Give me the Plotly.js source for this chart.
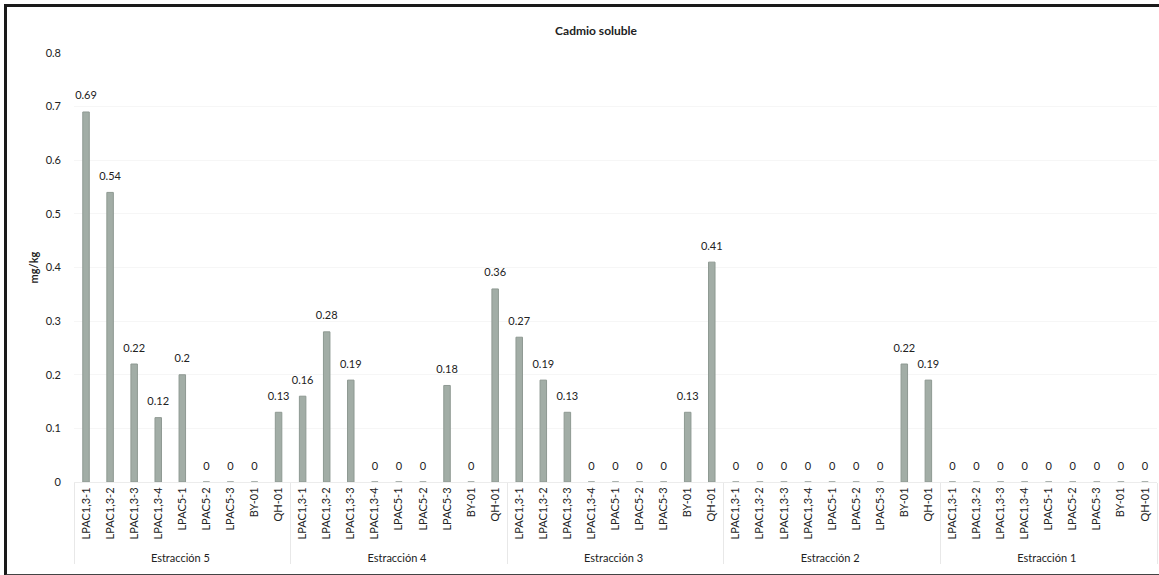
<!DOCTYPE html>
<html>
<head>
<meta charset="utf-8">
<script src="https://cdn.plot.ly/plotly-3.0.1.min.js"></script>
<style>
body{margin:0;background:#fff;}
#wrap{position:absolute;left:4px;top:4px;width:1155px;height:567px;border-left:3px solid #1a1a1a;border-top:3px solid #1a1a1a;border-bottom:2px solid #444;}
#chart{width:1155px;height:567px;}
</style>
</head>
<body>
<div id="wrap"><div id="chart"></div></div>
<script>
const groups = ["Estracción 5","Estracción 4","Estracción 3","Estracción 2","Estracción 1"];
const samples = ["LPAC1,3-1","LPAC1,3-2","LPAC1,3-3","LPAC1,3-4","LPAC5-1","LPAC5-2","LPAC5-3","BY-01","QH-01"];
const est5 = [0.69,0.54,0.22,0.12,0.2,0,0,0,0.13];
const est4 = [0.16,0.28,0.19,0,0,0,0.18,0,0.36];
const est3 = [0.27,0.19,0.13,0,0,0,0,0.13,0.41];
const est2 = [0,0,0,0,0,0,0,0.22,0.19];
const est1 = [0,0,0,0,0,0,0,0,0];
const series = [est5,est4,est3,est2,est1];

const xg = [], xs = [], yv = [];
groups.forEach((g,i)=>{
  samples.forEach((s,j)=>{
    xg.push(g); xs.push(s); yv.push(series[i][j]);
  });
});

const font = "Lato, 'Open Sans', sans-serif";
Plotly.newPlot('chart',[{
  type:'bar',
  x:[xg,xs],
  y:yv,
  marker:{color:'#a2ada6',line:{color:'#8e9992',width:1}},
  width:0.27,
  hoverinfo:'x+y'
},{
  type:'scatter',
  mode:'markers+text',
  x:[xg,xs],
  y:yv,
  text:yv.map(v=>String(v)),
  textposition:'top center',
  textfont:{family:font,size:11,color:'#222'},
  marker:{size:14,opacity:0},
  cliponaxis:false,
  hoverinfo:'skip'
}],{
  width:1155,height:567,
  margin:{l:67,r:5,t:46,b:92},
  paper_bgcolor:'#fff',plot_bgcolor:'#fff',
  showlegend:false,
  title:{text:'<b>Cadmio soluble</b>',x:0.51,xanchor:'center',y:0.965,yanchor:'top',font:{family:font,size:12,color:'#222'}},
  xaxis:{type:'multicategory',range:[-0.5,xs.length-0.5],tickangle:-90,tickfont:{family:font,size:11,color:'#222'},
    showdividers:true,dividercolor:'#e8e8e8',dividerwidth:1,showgrid:false,ticks:'',
    showline:true,linecolor:'#ececec'},
  yaxis:{range:[0,0.8],dtick:0.1,showgrid:true,gridcolor:'#f6f6f6',zeroline:false,
    tickfont:{family:font,size:11,color:'#222'},ticklabelstandoff:12,
    title:{text:'<b>mg/kg</b>',font:{family:font,size:11,color:'#222'},standoff:4}}
},{displayModeBar:false});
</script>
</body>
</html>
